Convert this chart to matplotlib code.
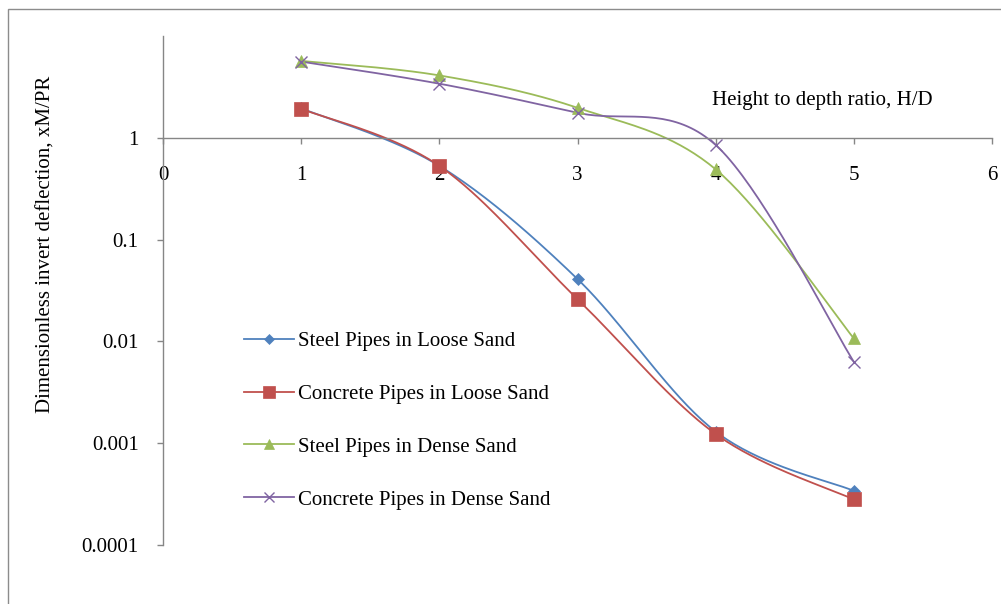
import numpy as np
import matplotlib
matplotlib.use("Agg")
import matplotlib.pyplot as plt
from matplotlib.patches import Rectangle

plt.rcParams['font.family'] = ['Liberation Serif', 'DejaVu Serif']

# height to depth ratio
hd = [1, 2, 3, 4, 5]

steel_loose = [1.95, 0.53, 0.041, 0.0013, 0.00034]
concrete_loose = [1.93, 0.53, 0.026, 0.00123, 0.00028]
steel_dense = [5.7, 4.1, 1.97, 0.49, 0.0107]
concrete_dense = [5.6, 3.4, 1.76, 0.85, 0.0063]

series_names = ['Steel Pipes in Loose Sand', 'Concrete Pipes in Loose Sand',
                'Steel Pipes in Dense Sand', 'Concrete Pipes in Dense Sand']
yticks = [0.0001, 0.001, 0.01, 0.1, 1]
ytick_labels = ['0.0001', '0.001', '0.01', '0.1', '1']
xticks = [0, 1, 2, 3, 4, 5, 6]

FS = 15


def smooth(x, y, n=40):
    # Catmull-Rom style bezier through the points, done in log space
    px = np.asarray(x, float)
    py = np.log10(np.asarray(y, float))
    P = np.column_stack([px, py])
    P = np.vstack([P[0], P, P[-1]])
    out = []
    t = np.linspace(0, 1, n)[:, None]
    for i in range(1, len(P) - 2):
        p0, p1, p2, p3 = P[i - 1], P[i], P[i + 1], P[i + 2]
        c1 = p1 + (p2 - p0) / 6.0
        c2 = p2 - (p3 - p1) / 6.0
        seg = ((1 - t) ** 3) * p1 + 3 * ((1 - t) ** 2) * t * c1 \
            + 3 * (1 - t) * t ** 2 * c2 + t ** 3 * p2
        out.append(seg if i == 1 else seg[1:])
    out = np.vstack(out)
    return out[:, 0], 10 ** out[:, 1]


fig = plt.figure(figsize=(10.01, 6.04), dpi=100)
ax = fig.add_axes([163 / 1001, 1 - 545 / 604, (992 - 163) / 1001, (545 - 36) / 604])

styles = [
    ('#4F81BD', 'D', 6),
    ('#C0504D', 's', 10),
    ('#9BBB59', '^', 9),
    ('#8064A2', 'x', 9),
]
all_y = [steel_loose, concrete_loose, steel_dense, concrete_dense]

for vals, name, (col, mk, ms) in zip(all_y, series_names, styles):
    sx, sy = smooth(hd, vals)
    mew = 1.0 if mk == 'x' else 0.5
    ax.plot(sx, sy, color=col, lw=1.3, zorder=2)
    ax.plot(hd, vals, ls='none', marker=mk, ms=ms, color=col, mew=mew, zorder=3)
    ax.plot([], [], color=col, lw=1.3, marker=mk, ms=ms * 0.8, mew=mew, label=name)

ax.set_yscale('log')
ax.set_ylim(1e-4, 10)
ax.set_xlim(0, 6)
ax.set_yticks(yticks)
ax.set_yticklabels(ytick_labels)
ax.yaxis.set_minor_locator(matplotlib.ticker.NullLocator())
ax.set_xticks(xticks)
ax.set_xticklabels([str(v) for v in xticks])

for s in ['top', 'right']:
    ax.spines[s].set_visible(False)
ax.spines['bottom'].set_position(('data', 1))
for s in ['left', 'bottom']:
    ax.spines[s].set_color('#868686')
    ax.spines[s].set_linewidth(1.0)

ax.tick_params(axis='both', direction='out', length=4.5, width=1.0, color='#868686',
               labelsize=FS, labelcolor='black')
ax.tick_params(axis='x', pad=16)
ax.tick_params(axis='y', pad=13)

fig.text(46 / 1001, 1 - 244 / 604, 'Dimensionless invert deflection, xM/PR',
         rotation=90, ha='center', va='center', fontsize=FS)
fig.text(822 / 1001, 1 - 100 / 604, 'Height to depth ratio, H/D',
         ha='center', va='center', fontsize=FS)

leg = ax.legend(loc='upper left', bbox_to_anchor=(236 / 1001, 1 - 323 / 604),
                bbox_transform=fig.transFigure, frameon=False, fontsize=FS,
                handlelength=2.4, handletextpad=0.2, labelspacing=1.6,
                borderaxespad=0)

fig.add_artist(Rectangle((8 / 1001, -0.1), 1.2, 1.1 - 9 / 604, transform=fig.transFigure,
                         fill=False, edgecolor='#8c8c8c', lw=1.0, clip_on=False))

fig.savefig('out.png', dpi=100)
